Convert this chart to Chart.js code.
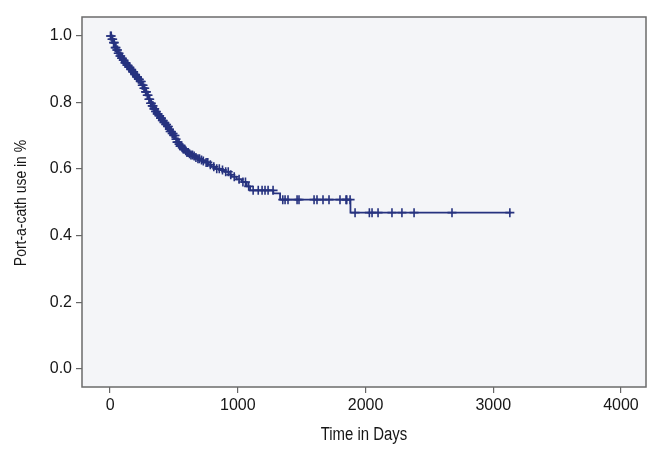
<!DOCTYPE html>
<html>
<head>
<meta charset="utf-8">
<script src="https://cdn.jsdelivr.net/npm/chart.js@4.4.0/dist/chart.umd.min.js"></script>
<style>
  html, body { margin: 0; padding: 0; background: #fff; }
  #wrap { width: 663px; height: 459px; }
</style>
</head>
<body>
<div id="wrap"><canvas id="km"></canvas></div>
<script>
// Kaplan-Meier estimate (days, fraction still using port-a-cath)
const eventDays = [0, 12, 25, 38, 50, 62, 75, 88, 100, 115, 130, 145, 160, 175, 190, 205, 220, 235,
  250, 262, 275, 288, 300, 313, 326, 340, 352, 365, 378, 391, 405, 418, 430, 444, 458, 470, 484, 496,
  509, 522, 535, 548, 561, 574, 587, 600, 615, 630, 648, 665, 685, 705, 725, 744, 770, 795, 822, 860,
  900, 930, 952, 990, 1031, 1070, 1096, 1278, 1331, 1882, 3140];
const survival = [1.0, 0.99, 0.98, 0.965, 0.958, 0.948, 0.94, 0.933, 0.927, 0.919, 0.912, 0.906, 0.899,
  0.892, 0.884, 0.877, 0.870, 0.863, 0.852, 0.843, 0.832, 0.822, 0.810, 0.798, 0.790, 0.781, 0.773,
  0.766, 0.760, 0.753, 0.746, 0.740, 0.734, 0.728, 0.720, 0.713, 0.707, 0.701, 0.690, 0.681, 0.675,
  0.669, 0.664, 0.660, 0.655, 0.650, 0.646, 0.642, 0.639, 0.635, 0.631, 0.627, 0.624, 0.620, 0.613,
  0.607, 0.601, 0.597, 0.592, 0.583, 0.577, 0.569, 0.561, 0.548, 0.536, 0.527, 0.508, 0.469, 0.469];

// censored observations (days)
const censorDays = [3, 9, 15, 20, 27, 33, 40, 46, 52, 58, 64, 70, 77, 83, 90, 96, 103, 109, 117, 124,
  132, 139, 147, 154, 162, 169, 177, 184, 192, 199, 207, 214, 222, 229, 237, 244, 252, 258, 265, 271,
  278, 284, 291, 297, 304, 310, 317, 323, 330, 336, 343, 349, 356, 362, 369, 375, 382, 388, 395, 402,
  409, 415, 422, 428, 436, 442, 450, 456, 464, 470, 478, 486, 493, 500, 508, 516, 524, 532, 540, 548,
  556, 565, 574, 583, 592, 602, 612, 622, 633, 645, 658, 672, 688, 700, 716, 730, 752, 765, 785, 812,
  835, 855, 880, 905, 925, 945, 972, 1010, 1040, 1060, 1085, 1120, 1160, 1190, 1213, 1237, 1276, 1352,
  1370, 1393, 1464, 1479, 1597, 1620, 1667, 1714, 1800, 1847, 1853, 1879, 1918, 2030, 2051, 2098, 2207,
  2285, 2380, 2677, 3130];

const xTicks = [0, 1000, 2000, 3000, 4000];
const yTicks = [0, 0.2, 0.4, 0.6, 0.8, 1.0];
const xTitle = 'Time in Days';
const yTitle = 'Port-a-cath use in %';

function survAt(t) {
  let s = survival[0];
  for (let i = 0; i < eventDays.length; i++) {
    if (eventDays[i] <= t) s = survival[i];
  }
  return s;
}

const lineColor = '#26327f';
const textColor = '#161616';
const tickFont = { family: "'Liberation Sans', Arial, sans-serif", size: 16 };

// plot background, frame and condensed axis titles
const plotBox = {
  id: 'plotBox',
  beforeDraw(chart) {
    const { ctx, chartArea: a } = chart;
    ctx.save();
    ctx.fillStyle = '#f4f5f8';
    ctx.fillRect(a.left, a.top, a.right - a.left, a.bottom - a.top);
    ctx.restore();
  },
  afterDraw(chart) {
    const { ctx, chartArea: a } = chart;
    ctx.save();
    ctx.strokeStyle = '#6b6b6b';
    ctx.lineWidth = 1.5;
    ctx.strokeRect(a.left, a.top, a.right - a.left, a.bottom - a.top);

    ctx.fillStyle = textColor;
    ctx.font = "18px 'Liberation Sans', Arial, sans-serif";
    ctx.textAlign = 'center';
    ctx.textBaseline = 'middle';
    ctx.save();
    ctx.translate((a.left + a.right) / 2, 435);
    ctx.scale(0.83, 1);
    ctx.fillText(xTitle, 0, 0);
    ctx.restore();

    ctx.font = "17px 'Liberation Sans', Arial, sans-serif";
    ctx.save();
    ctx.translate(21, (a.top + a.bottom) / 2 + 1);
    ctx.rotate(-Math.PI / 2);
    ctx.scale(0.82, 1);
    ctx.fillText(yTitle, 0, 0);
    ctx.restore();
    ctx.restore();
  }
};

new Chart(document.getElementById('km'), {
  type: 'scatter',
  data: {
    datasets: [
      {
        label: 'survival',
        data: eventDays.map((d, i) => ({ x: d, y: survival[i] })),
        showLine: true,
        stepped: true,
        borderColor: lineColor,
        borderWidth: 1.8,
        pointRadius: 0,
        fill: false
      },
      {
        label: 'censored',
        data: censorDays.map(d => ({ x: d, y: survAt(d) })),
        showLine: false,
        pointStyle: 'cross',
        pointRadius: 4.5,
        borderColor: lineColor,
        borderWidth: 1.6
      }
    ]
  },
  options: {
    responsive: true,
    maintainAspectRatio: false,
    animation: false,
    layout: { padding: { top: 17, right: 17, left: 0, bottom: 0 } },
    plugins: { legend: { display: false }, tooltip: { enabled: false } },
    scales: {
      x: {
        type: 'linear',
        min: -220,
        max: 4196,
        afterBuildTicks: s => { s.ticks = xTicks.map(v => ({ value: v })); },
        afterFit: s => { s.height = 72; },
        grid: { display: true, drawOnChartArea: false, drawTicks: true, tickLength: 6, color: '#666', lineWidth: 1.2 },
        border: { display: false },
        ticks: { font: tickFont, color: textColor, padding: 3, maxRotation: 0, callback: v => String(v) },
        title: { display: false }
      },
      y: {
        type: 'linear',
        min: -0.055,
        max: 1.057,
        afterBuildTicks: s => { s.ticks = yTicks.map(v => ({ value: v })); },
        afterFit: s => { s.width = 82; },
        grid: { display: true, drawOnChartArea: false, drawTicks: true, tickLength: 6, color: '#666', lineWidth: 1.2 },
        border: { display: false },
        ticks: { font: tickFont, color: textColor, padding: 4, callback: v => v.toFixed(1) },
        title: { display: false }
      }
    }
  },
  plugins: [plotBox]
});
</script>
</body>
</html>
